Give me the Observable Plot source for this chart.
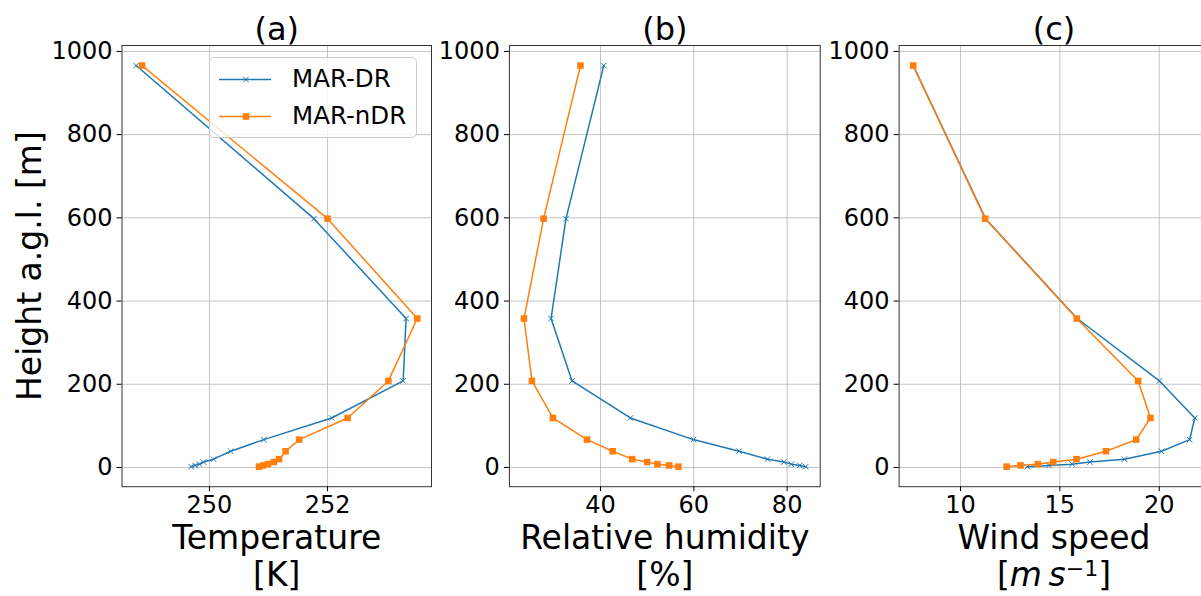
<!DOCTYPE html>
<html>
<head>
<meta charset="utf-8">
<script src="https://cdn.jsdelivr.net/npm/d3@7"></script>
<script src="https://cdn.jsdelivr.net/npm/@observablehq/plot@0.6"></script>
<style>
  html, body { margin: 0; padding: 0; background: white; overflow: hidden; }
  #wrap { position: relative; width: 1201px; height: 596px; overflow: hidden; font-family: "DejaVu Sans", sans-serif; }
  #wrap svg { position: absolute; left: 0; top: 0; max-width: none !important; }
  #legend { position: absolute; left: 209px; top: 57px; width: 208px; height: 81px; box-sizing: border-box;
            background: rgba(255,255,255,0.8); border: 1px solid #cccccc; border-radius: 5px; }
  #legend .row { position: absolute; left: 0; height: 30px; display: flex; align-items: center; font-size: 24.5px; color: black; }
  #legend svg { position: static !important; }
</style>
</head>
<body>
<div id="wrap"></div>
<script>
// Model levels (height above ground, m), bottom to top
const heights = [2, 5, 8, 13, 20, 39, 67, 119, 208, 358, 598, 966];

// Temperature [K]
const tempDR  = [249.69, 249.76, 249.83, 249.90, 250.07, 250.36, 250.92, 252.07, 253.28, 253.33, 251.77, 248.76];
const tempNDR = [250.84, 250.91, 250.99, 251.09, 251.18, 251.29, 251.52, 252.34, 253.03, 253.52, 252.00, 248.86];

// Relative humidity [%]
const rhDR  = [84.0, 82.7, 80.9, 79.3, 75.8, 69.7, 59.9, 46.4, 33.9, 29.4, 32.6, 40.7];
const rhNDR = [56.7, 54.7, 52.2, 50.0, 46.8, 42.6, 37.1, 29.8, 25.3, 23.6, 27.8, 35.7];

// Wind speed [m s-1]
const windDR  = [13.36, 14.45, 15.62, 16.51, 18.25, 20.11, 21.53, 21.79, 20.01, 15.87, 11.26, 7.62];
const windNDR = [12.32, 13.02, 13.89, 14.67, 15.84, 17.32, 18.84, 19.56, 18.94, 15.85, 11.24, 7.62];

const seriesNames = ["MAR-DR", "MAR-nDR"];
const yTicks = [0, 200, 400, 600, 800, 1000];
const tempTicks = [250, 252];
const rhTicks = [40, 60, 80];
const windTicks = [10, 15, 20];

const blue = "#1f77b4", orange = "#ff7f0e";
const yDomain = [-46.2, 1014.2];
const frameTop = 45, frameBottom = 486.2, H = 596;
const FONT = "'DejaVu Sans', sans-serif";
const TICK_FS = 24;

function rows(vals) { return heights.map((h, i) => ({h, v: vals[i]})); }

function panel(o) {
  const dr = rows(o.dr), ndr = rows(o.ndr);
  const marks = [
    Plot.gridX(o.ticks, {stroke: "#b0b0b0", strokeOpacity: 0.75, strokeWidth: 1}),
    Plot.gridY(yTicks, {stroke: "#b0b0b0", strokeOpacity: 0.75, strokeWidth: 1}),
    Plot.line(dr, {x: "v", y: "h", stroke: blue, strokeWidth: 1.5}),
    Plot.dot(dr, {x: "v", y: "h", symbol: "times", stroke: blue, strokeWidth: 1, r: 2.6}),
    Plot.line(ndr, {x: "v", y: "h", stroke: orange, strokeWidth: 1.5}),
    Plot.dot(ndr, {x: "v", y: "h", symbol: "square", fill: orange, stroke: "none", r: 3.7}),
    Plot.frame({stroke: "#333", strokeWidth: 1}),
    // tick marks (labels drawn below as text marks)
    Plot.axisX(o.ticks, {tickSize: 5, tickFormat: () => "", label: null}),
    Plot.axisY(yTicks, {tickSize: 5, tickFormat: () => "", label: null}),
    // tick labels
    Plot.text(o.ticks, {x: d => d, text: d => String(d), frameAnchor: "bottom", textAnchor: "middle",
      lineAnchor: "top", dy: 9.3, fontSize: TICK_FS, fontFamily: FONT}),
    Plot.text(yTicks, {y: d => d, text: d => String(d), frameAnchor: "left", textAnchor: "end",
      lineAnchor: "middle", dx: -9.5, fontSize: TICK_FS, fontFamily: FONT}),
    Plot.text([o.title], {text: d => d, frameAnchor: "top", textAnchor: "middle", lineAnchor: "bottom", dy: -6, fontSize: 32}),
    Plot.text([o.xlabel], {text: d => d, frameAnchor: "bottom", textAnchor: "middle", lineAnchor: "top", dy: 37, fontSize: 33, lineHeight: 1.1})
  ];
  if (o.ylabel) {
    marks.push(Plot.text([o.ylabel], {text: d => d, frameAnchor: "left", textAnchor: "middle", lineAnchor: "bottom",
      rotate: -90, dx: 40 - o.left, fontSize: 33}));
  }
  const svg = Plot.plot({
    width: o.width, height: H,
    marginLeft: o.left, marginRight: o.width - o.right, marginTop: frameTop, marginBottom: H - frameBottom,
    style: {background: "transparent", fontFamily: FONT, color: "black", overflow: "visible"},
    x: {domain: o.xDomain, label: null},
    y: {domain: yDomain, label: null},
    marks
  });
  svg.style.maxWidth = "none";
  svg.style.overflow = "visible";
  return svg;
}

const wrap = document.getElementById("wrap");
wrap.appendChild(panel({width: 1201, left: 121.5, right: 431, xDomain: [248.52, 253.76], ticks: tempTicks,
  dr: tempDR, ndr: tempNDR, title: "(a)", xlabel: "Temperature\n[K]", ylabel: "Height a.g.l. [m]"}));
wrap.appendChild(panel({width: 1201, left: 508.9, right: 819.7, xDomain: [20.47, 87.09], ticks: rhTicks,
  dr: rhDR, ndr: rhNDR, title: "(b)", xlabel: "Relative humidity\n[%]"}));
const pc = panel({width: 1215, left: 898.6, right: 1208.4, xDomain: [6.91, 22.50], ticks: windTicks,
  dr: windDR, ndr: windNDR, title: "(c)", xlabel: "Wind speed\n[m s-1]"});
wrap.appendChild(pc);

// mathtext-style unit for wind speed
pc.querySelectorAll("tspan").forEach(t => {
  if (t.textContent === "[m s-1]") {
    t.innerHTML = '[<tspan font-style="italic">m</tspan>\u2009<tspan font-style="italic">s</tspan><tspan dy="-10" font-size="22">\u22121</tspan><tspan dy="10">]</tspan>';
  }
});

// Legend
const legend = document.createElement("div");
legend.id = "legend";
function legendRow(name, color, symbol, top) {
  const row = document.createElement("div");
  row.className = "row";
  row.style.top = top + "px";
  const s = Plot.plot({
    width: 62, height: 30, margin: 0,
    x: {domain: [0, 62], axis: null}, y: {domain: [0, 30], axis: null},
    style: {background: "transparent"},
    marks: [
      Plot.ruleY([15], {x1: 9, x2: 61, stroke: color, strokeWidth: 1.5}),
      symbol === "times"
        ? Plot.dot([0], {x: () => 35.5, y: () => 15, symbol: "times", stroke: color, strokeWidth: 1, r: 2.6})
        : Plot.dot([0], {x: () => 35.5, y: () => 15, symbol: "square", fill: color, stroke: "none", r: 3.7})
    ]
  });
  s.style.maxWidth = "none";
  row.appendChild(s);
  const label = document.createElement("span");
  label.textContent = name;
  label.style.marginLeft = "20px";
  row.appendChild(label);
  legend.appendChild(row);
}
legendRow(seriesNames[0], blue, "times", 5.5);
legendRow(seriesNames[1], orange, "square", 42.5);
wrap.appendChild(legend);
</script>
</body>
</html>
